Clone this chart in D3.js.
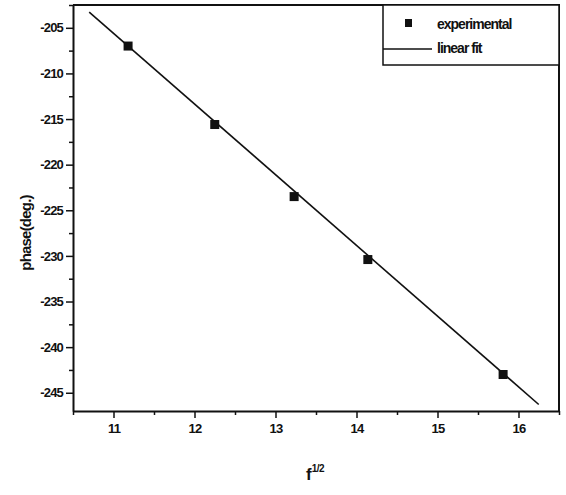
<!doctype html>
<html lang="en">
<head>
    <meta charset="utf-8">
    <title>phase vs f^1/2</title>
    <script src="https://d3js.org/d3.v7.min.js"></script>
    <style>
        body { margin: 0; padding: 0; background: white; }
        svg { display: block; }
        text { font-family: 'Liberation Sans', Arial, sans-serif; fill: #111; }
        .tick text { font-size: 13px; font-weight: bold; letter-spacing: -0.8px; }
    </style>
</head>
<body>
<div class="home"></div>
<script>
    // data
    const sqrtF = [11.18, 12.25, 13.23, 14.14, 15.81];
    const phase = [-207.0, -215.6, -223.5, -230.4, -243.0];
    // linear fit (slope, intercept) and the range it is drawn over
    const fitSlope = -7.75;
    const fitIntercept = -120.35;
    const fitRange = [10.7, 16.25];
    const xTicks = [11, 12, 13, 14, 15, 16];
    const yTicks = [-205, -210, -215, -220, -225, -230, -235, -240, -245];
    const legendLabels = ["experimental", "linear fit"];

    const width = 566, height = 495;
    const margin = {left: 73, right: 7, top: 5, bottom: 84};

    const svg = d3.select(".home").append("svg")
        .attr("width", width)
        .attr("height", height);

    const x = d3.scaleLinear().domain([10.5, 16.5]).range([margin.left, width - margin.right]);
    const y = d3.scaleLinear().domain([-247, -202.5]).range([height - margin.bottom, margin.top]);

    // plain hyphen minus, like the original
    const fmt = v => String(v);

    // minor ticks
    const xMinor = d3.range(10.5, 16.51, 0.5).filter(v => !xTicks.includes(v));
    const yMinor = d3.range(-247.5, -202.4, 2.5).filter(v => !yTicks.includes(v) && v >= -247 && v <= -202.5);

    svg.append("g")
        .attr("transform", `translate(0,${y.range()[0]})`)
        .call(d3.axisBottom(x).tickValues(xMinor).tickSize(4).tickFormat(""))
        .call(g => g.select(".domain").remove())
        .selectAll("line").attr("stroke", "#111").attr("stroke-width", 1.5);

    svg.append("g")
        .attr("transform", `translate(${x.range()[0]},0)`)
        .call(d3.axisLeft(y).tickValues(yMinor).tickSize(4).tickFormat(""))
        .call(g => g.select(".domain").remove())
        .selectAll("line").attr("stroke", "#111").attr("stroke-width", 1.5);

    // major axes
    const xAxis = svg.append("g")
        .attr("transform", `translate(0,${y.range()[0]})`)
        .call(d3.axisBottom(x).tickValues(xTicks).tickFormat(fmt).tickSize(7).tickSizeOuter(0).tickPadding(6));
    const yAxis = svg.append("g")
        .attr("transform", `translate(${x.range()[0]},0)`)
        .call(d3.axisLeft(y).tickValues(yTicks).tickFormat(fmt).tickSize(7).tickSizeOuter(0).tickPadding(3));
    [xAxis, yAxis].forEach(a => {
        a.selectAll("line").attr("stroke", "#111").attr("stroke-width", 1.5);
        a.select(".domain").attr("stroke", "#111").attr("stroke-width", 2);
    });

    // top and right frame
    svg.append("path")
        .attr("d", `M${x.range()[0]},${y.range()[1]}H${x.range()[1]}V${y.range()[0]}`)
        .attr("fill", "none")
        .attr("stroke", "#111")
        .attr("stroke-width", 2);

    // fit line
    svg.append("line")
        .attr("x1", x(fitRange[0])).attr("y1", y(fitSlope * fitRange[0] + fitIntercept))
        .attr("x2", x(fitRange[1])).attr("y2", y(fitSlope * fitRange[1] + fitIntercept))
        .attr("stroke", "#111")
        .attr("stroke-width", 1.6);

    // experimental points
    const ms = 9;
    svg.append("g").selectAll("rect")
        .data(sqrtF.map((v, i) => [v, phase[i]]))
        .join("rect")
        .attr("x", d => x(d[0]) - ms / 2)
        .attr("y", d => y(d[1]) - ms / 2)
        .attr("width", ms)
        .attr("height", ms)
        .attr("fill", "#111");

    // legend
    const lg = svg.append("g");
    lg.append("rect")
        .attr("x", 383).attr("y", y.range()[1])
        .attr("width", x.range()[1] - 383).attr("height", 60)
        .attr("fill", "white").attr("stroke", "#111").attr("stroke-width", 1.5);
    lg.append("rect").attr("x", 405).attr("y", 19).attr("width", 7).attr("height", 8).attr("fill", "#111");
    lg.append("line").attr("x1", 383).attr("x2", 432).attr("y1", 49).attr("y2", 49)
        .attr("stroke", "#111").attr("stroke-width", 1.3);
    lg.selectAll("text.lab")
        .data(legendLabels)
        .join("text")
        .attr("class", "lab")
        .attr("x", 437)
        .attr("y", (d, i) => 29 + i * 24)
        .attr("font-size", 14)
        .attr("font-weight", "bold")
        .attr("letter-spacing", -1)
        .text(d => d);

    // axis titles
    svg.append("text")
        .attr("transform", "translate(31,233) rotate(-90)")
        .attr("text-anchor", "middle")
        .attr("font-size", 15)
        .attr("font-weight", "bold")
        .attr("letter-spacing", -0.8)
        .text("phase(deg.)");

    const xt = svg.append("text")
        .attr("x", 306)
        .attr("y", 480)
        .attr("font-size", 17)
        .attr("font-weight", "bold");
    xt.append("tspan").text("f");
    xt.append("tspan").attr("dy", -8).attr("font-size", 10).attr("letter-spacing", -0.5).text("1/2");
</script>
</body>
</html>
